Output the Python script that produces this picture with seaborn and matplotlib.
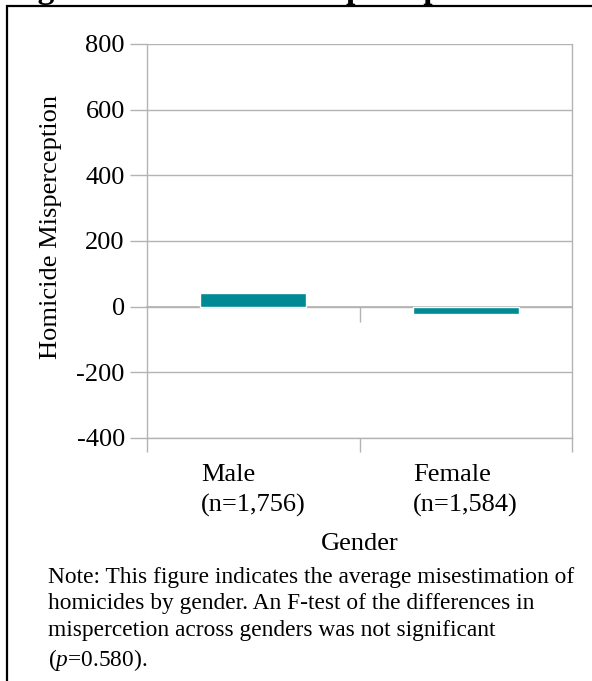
import matplotlib
matplotlib.use("Agg")
import matplotlib.pyplot as plt
import numpy as np
import pandas as pd
import seaborn as sns
from matplotlib.patches import Rectangle

# data
genders = ["Male\n(n=1,756)", "Female\n(n=1,584)"]
misperception = [42, -21]
y_ticks = [-400, -200, 0, 200, 400, 600, 800]

title = "Figure 4: Homicide Misperception"
note = ("Note: This figure indicates the average misestimation of\n"
        "homicides by gender. An F-test of the differences in\n"
        "mispercetion across genders was not significant\n"
        "($\\it{p}$=0.580).")

sns.set_theme(style="white")
plt.rcParams['font.family'] = ['Liberation Serif', 'DejaVu Serif']
plt.rcParams['mathtext.fontset'] = 'custom'
plt.rcParams['mathtext.it'] = 'Liberation Serif:italic'
plt.rcParams['mathtext.rm'] = 'Liberation Serif'
plt.rcParams['text.color'] = 'black'
plt.rcParams['axes.labelcolor'] = 'black'

df = pd.DataFrame({"Gender": genders, "Value": misperception})

fig = plt.figure(figsize=(5.92, 6.81), dpi=100)
ax = fig.add_axes([147 / 592, 1 - 438 / 681, 425 / 592, 394 / 681])

grid_col = "#b3b3b3"
sns.barplot(data=df, x="Gender", y="Value", color="#008a94", width=0.5,
            saturation=1, ax=ax, zorder=3)

ax.set_ylim(-400, 800)
ax.set_xlim(-0.5, 1.5)
ax.set_yticks(y_ticks)
ax.set_yticklabels([str(v) for v in y_ticks], fontsize=19)
ax.yaxis.grid(True, color=grid_col, lw=1, zorder=0)
ax.tick_params(axis="y", length=12, width=1, color=grid_col, pad=4, left=True,
               labelcolor="black")

# category labels with boundary tick marks
ax.set_xticks([0, 1])
ax.set_xticklabels(genders, fontsize=19, multialignment="left",
                   linespacing=1.4)
ax.tick_params(axis="x", length=0, pad=19, labelcolor="black")
ax.set_xticks([-0.5, 0.5, 1.5], minor=True)
ax.tick_params(axis="x", which="minor", length=10, width=1, color=grid_col,
               bottom=True)

# axis crossing at zero
sec = ax.secondary_xaxis(1 / 3)
sec.set_xticks([0.5])
sec.set_xticklabels([""])
sec.tick_params(axis="x", length=11, width=1, color=grid_col, direction="out")
sec.spines["bottom"].set_color(grid_col)

for s in ["left", "right", "bottom"]:
    ax.spines[s].set_color(grid_col)
    ax.spines[s].set_linewidth(1)
ax.spines["top"].set_visible(False)

ax.set_xlabel("Gender", fontsize=19, labelpad=12)
ax.set_ylabel("Homicide Misperception", fontsize=19)
ax.yaxis.set_label_coords(-0.2, 0.535)

# clipped title and note text
fig.text(8 / 592, 1 + 2 / 681, title, fontsize=24, fontweight="bold",
         ha="left", va="baseline")
fig.text(48 / 592, 1 - 567 / 681, note, fontsize=16.8, ha="left", va="top",
         linespacing=1.33)

# frame around the figure
fig.patches.append(Rectangle((7 / 592, -0.05), 1.2, 1 - 6 / 681 + 0.05,
                             transform=fig.transFigure, fill=False,
                             edgecolor="black", lw=1.6))

fig.savefig("out.png", dpi=100)
